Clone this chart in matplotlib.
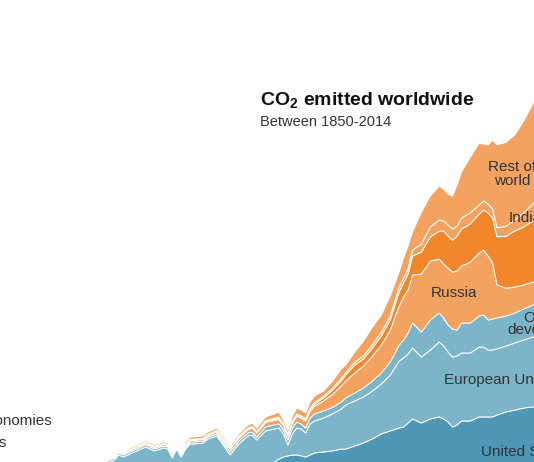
import matplotlib.pyplot as plt

# annual CO2 emissions, Gt
years = [1880, 1890, 1900, 1903, 1906, 1907, 1908, 1910, 1913, 1915,
         1917, 1918, 1919, 1920, 1921, 1922, 1923, 1924, 1926, 1927,
         1929, 1930, 1932, 1934, 1936, 1937, 1938, 1940, 1942, 1943,
         1944, 1945, 1946, 1947, 1948, 1949, 1950, 1951, 1953, 1955,
         1957, 1958, 1960, 1962, 1964, 1966, 1968, 1970, 1971, 1972,
         1973, 1975, 1977, 1979, 1980, 1981, 1982, 1983, 1984, 1986,
         1988, 1989, 1990, 1991, 1992, 1994, 1996, 1998, 2000, 2001]

united_states = [0.17, 0.35, 0.66, 0.80, 1.00, 1.20, 1.00, 1.30, 1.50, 1.40,
                 1.60, 1.65, 1.40, 1.60, 1.30, 1.50, 1.85, 1.75, 1.85, 1.80,
                 1.95, 1.75, 1.35, 1.50, 1.75, 1.85, 1.60, 1.85, 2.05, 2.24,
                 2.37, 2.44, 2.50, 2.50, 2.44, 2.37, 2.50, 2.63, 2.69, 2.76,
                 2.88, 2.88, 3.08, 3.27, 3.53, 3.85, 4.04, 4.23, 4.29, 4.55,
                 4.81, 4.55, 4.81, 4.94, 4.81, 4.62, 4.29, 4.42, 4.68, 4.68,
                 4.94, 4.94, 4.94, 4.94, 5.06, 5.26, 5.38, 5.51, 5.58, 5.64]

european_union = [0.65, 0.90, 0.88, 0.99, 1.18, 1.30, 1.37, 1.33, 1.51, 1.36,
                  1.35, 1.24, 0.91, 1.28, 1.07, 1.38, 1.35, 1.46, 1.42, 1.72,
                  1.77, 1.58, 1.15, 1.71, 1.97, 1.93, 1.86, 2.19, 2.12, 1.99,
                  1.47, 0.70, 1.35, 1.73, 1.72, 1.54, 1.99, 2.05, 2.18, 2.37,
                  2.57, 2.83, 2.88, 2.95, 3.07, 3.20, 3.59, 4.29, 4.43, 4.42,
                  4.55, 4.23, 4.42, 4.80, 4.68, 4.48, 4.49, 4.42, 4.36, 4.36,
                  4.48, 4.48, 4.29, 4.29, 4.24, 4.22, 4.30, 4.36, 4.48, 4.49]

other_developed = [0.03, 0.05, 0.13, 0.13, 0.13, 0.13, 0.13, 0.13, 0.13, 0.13,
                   0.13, 0.13, 0.13, 0.13, 0.13, 0.13, 0.13, 0.13, 0.13, 0.13,
                   0.13, 0.13, 0.19, 0.19, 0.19, 0.19, 0.19, 0.26, 0.26, 0.26,
                   0.26, 0.32, 0.38, 0.38, 0.32, 0.32, 0.38, 0.45, 0.45, 0.42,
                   0.45, 0.45, 0.51, 0.58, 0.64, 0.71, 0.83, 1.03, 1.15, 1.35,
                   1.60, 1.60, 1.92, 1.86, 1.79, 1.73, 1.79, 1.67, 1.92, 1.92,
                   1.99, 2.05, 1.92, 1.99, 1.99, 1.92, 1.92, 1.99, 2.05, 2.12]

russia = [0.03, 0.04, 0.06, 0.05, 0.08, 0.08, 0.08, 0.10, 0.10, 0.10,
          0.10, 0.10, 0.10, 0.10, 0.10, 0.10, 0.10, 0.10, 0.10, 0.10,
          0.14, 0.14, 0.17, 0.19, 0.22, 0.26, 0.26, 0.29, 0.29, 0.29,
          0.26, 0.26, 0.32, 0.38, 0.38, 0.45, 0.45, 0.51, 0.64, 0.83,
          1.03, 1.09, 1.28, 1.41, 1.60, 1.79, 2.05, 2.50, 2.76, 2.76,
          3.08, 3.72, 3.78, 3.46, 3.46, 3.65, 3.65, 3.78, 3.65, 3.91,
          4.04, 4.17, 4.10, 3.59, 2.12, 1.79, 1.67, 1.54, 1.47, 1.47]

china = [0.00, 0.00, 0.00, 0.01, 0.02, 0.02, 0.02, 0.03, 0.03, 0.03,
         0.03, 0.03, 0.03, 0.03, 0.03, 0.03, 0.03, 0.03, 0.03, 0.03,
         0.04, 0.04, 0.04, 0.04, 0.04, 0.04, 0.04, 0.05, 0.06, 0.06,
         0.06, 0.06, 0.05, 0.05, 0.05, 0.06, 0.10, 0.13, 0.19, 0.26,
         0.32, 0.38, 0.51, 0.45, 0.51, 0.58, 0.64, 0.90, 0.90, 1.03,
         1.22, 1.41, 1.55, 1.79, 2.12, 2.05, 2.05, 2.24, 2.37, 2.45,
         2.50, 2.56, 2.76, 2.88, 3.08, 3.33, 3.59, 3.72, 3.91, 4.04]

india = [0.01, 0.01, 0.02, 0.02, 0.03, 0.03, 0.03, 0.03, 0.03, 0.03,
         0.03, 0.03, 0.03, 0.03, 0.03, 0.04, 0.04, 0.04, 0.04, 0.04,
         0.05, 0.05, 0.05, 0.06, 0.06, 0.06, 0.06, 0.07, 0.08, 0.08,
         0.08, 0.08, 0.08, 0.09, 0.09, 0.09, 0.10, 0.10, 0.11, 0.13,
         0.15, 0.15, 0.18, 0.19, 0.22, 0.24, 0.26, 0.32, 0.32, 0.32,
         0.38, 0.51, 0.64, 0.71, 0.64, 0.71, 0.71, 0.64, 0.71, 0.71,
         0.58, 0.58, 0.58, 0.58, 0.58, 0.64, 0.71, 0.90, 1.09, 1.15]

rest_of_world = [0.06, 0.05, 0.05, 0.05, 0.07, 0.07, 0.07, 0.10, 0.10, 0.10,
                 0.10, 0.10, 0.10, 0.10, 0.10, 0.15, 0.15, 0.15, 0.15, 0.15,
                 0.15, 0.15, 0.13, 0.16, 0.18, 0.21, 0.21, 0.23, 0.28, 0.33,
                 0.24, 0.24, 0.31, 0.37, 0.37, 0.37, 0.38, 0.41, 0.34, 0.45,
                 0.62, 0.49, 0.65, 0.96, 1.13, 1.10, 1.28, 0.96, 1.28, 1.47,
                 1.15, 2.05, 1.98, 2.18, 2.05, 1.99, 2.12, 2.63, 2.95, 3.57,
                 3.97, 3.65, 3.78, 4.42, 5.32, 5.38, 5.45, 5.90, 6.41, 6.67]

blue_dark = '#4f97b6'
blue_light = '#7cb5ca'
orange_light = '#f4a260'
orange_dark = '#f2862b'

W, H = 534, 462


def px(x, y):
    # pixel position -> figure fraction
    return x / W, 1 - y / H


plt.rcParams['font.family'] = ['Liberation Sans', 'DejaVu Sans']
plt.rcParams['mathtext.fontset'] = 'custom'
plt.rcParams['mathtext.rm'] = 'Liberation Sans'
plt.rcParams['mathtext.bf'] = 'Liberation Sans:bold'

fig = plt.figure(figsize=(W / 100, H / 100), dpi=100)
ax = fig.add_axes([0, 0, 1, 1])

ax.stackplot(years,
             united_states, european_union, other_developed,
             russia, china, india, rest_of_world,
             colors=[blue_dark, blue_light, blue_light,
                     orange_light, orange_dark, orange_light, orange_light],
             edgecolor='white', linewidth=0.7)

ax.set_xlim(1880.3, 2000.3)
ax.set_ylim(2.05, 31.67)
ax.axis('off')

label_color = '#333333'
fs = 11
fig.text(*px(260, 101), r'CO$_\mathbf{2}$ emitted worldwide', fontsize=14,
         fontweight='bold', color='#111111', va='center')
fig.text(*px(260, 122), 'Between 1850-2014', fontsize=10.5,
         color=label_color, va='center')

fig.text(*px(52, 421), 'Developing economies', fontsize=fs,
         color=label_color, ha='right', va='center')
fig.text(*px(6, 443), 'Developed economies', fontsize=fs,
         color=label_color, ha='right', va='center')

fig.text(*px(512, 174), 'Rest of\nworld', fontsize=fs, color=label_color,
         ha='center', va='center', linespacing=1.0)
fig.text(*px(509, 218), 'India', fontsize=fs, color=label_color, va='center')
fig.text(*px(431, 293), 'Russia', fontsize=fs, color=label_color, va='center')
fig.text(*px(542, 324), 'Other\ndeveloped', fontsize=fs, color=label_color,
         ha='center', va='center', linespacing=0.9)
fig.text(*px(444, 380), 'European Union', fontsize=fs, color=label_color,
         va='center')
fig.text(*px(481, 452), 'United States', fontsize=fs, color=label_color,
         va='center')

fig.savefig('out.png', dpi=100)
